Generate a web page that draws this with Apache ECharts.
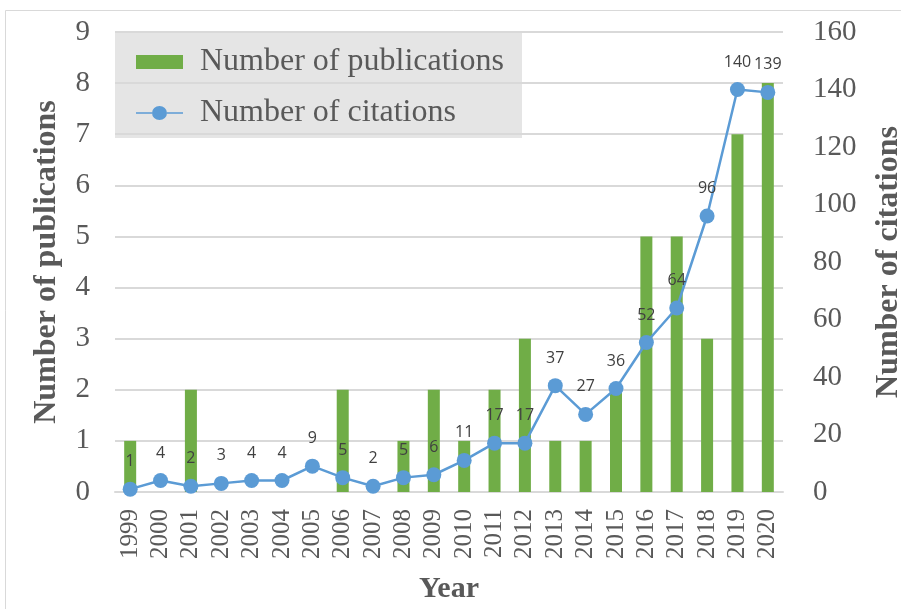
<!DOCTYPE html>
<html>
<head>
<meta charset="utf-8">
<script src="https://cdn.jsdelivr.net/npm/echarts@6/dist/echarts.min.js"></script>
<style>html,body{margin:0;padding:0;background:#fff;}#c{width:901px;height:609px;}</style>
</head>
<body>
<div id="c"></div>
<script>
const years = ['1999','2000','2001','2002','2003','2004','2005','2006','2007','2008','2009','2010','2011','2012','2013','2014','2015','2016','2017','2018','2019','2020'];
const publications = [1,0,2,0,0,0,0,2,0,1,2,1,2,3,1,1,2,5,5,3,7,8];
const citations = [1,4,2,3,4,4,9,5,2,5,6,11,17,17,37,27,36,52,64,96,140,139];

const serif = '"Liberation Serif", "DejaVu Serif", serif';
const lineIcon = 'path://M0 6.2L16 6.2L16 7.8L0 7.8Z M31 6.2L47 6.2L47 7.8L31 7.8Z M16 7A7.5 7 0 1 1 31 7A7.5 7 0 1 1 16 7Z';
const chart = echarts.init(document.getElementById('c'));
chart.setOption({
  animation: false,
  backgroundColor: '#fff',
  graphic: [
    {type: 'rect', shape: {x: 5.5, y: 10.5, width: 900, height: 600}, style: {fill: 'none', stroke: '#d9d9d9', lineWidth: 1}, silent: true},
    {type: 'rect', shape: {x: 115, y: 33, width: 407, height: 105}, style: {fill: '#e5e5e5'}, silent: true, z: -1}
  ],
  legend: {
    orient: 'vertical',
    left: 131, top: 41,
    itemWidth: 47, itemHeight: 14,
    itemGap: 19,
    textStyle: {fontFamily: serif, fontSize: 32, lineHeight: 32, color: '#595959', padding: [0, 0, 0, 12]},
    data: [
      {name: 'Number of publications', icon: 'rect'},
      {name: 'Number of citations', icon: lineIcon, itemStyle: {color: '#5b9bd5'}}
    ]
  },
  grid: {left: 115, right: 118, top: 32, bottom: 117, outerBoundsMode: 'none', containLabel: false},
  xAxis: {
    type: 'category',
    data: years,
    name: 'Year',
    nameLocation: 'middle',
    nameGap: 82,
    nameTextStyle: {fontFamily: serif, fontSize: 30, fontWeight: 'bold', color: '#595959'},
    axisLine: {show: true, lineStyle: {color: '#d9d9d9', width: 2}},
    axisTick: {show: false},
    axisLabel: {rotate: 90, fontFamily: serif, fontSize: 25, color: '#595959', margin: 17, interval: 0}
  },
  yAxis: [
    {
      type: 'value', min: 0, max: 9, interval: 1,
      name: 'Number of publications',
      nameLocation: 'middle', nameGap: 52,
      nameTextStyle: {fontFamily: serif, fontSize: 32, fontWeight: 'bold', color: '#595959'},
      axisLine: {show: false}, axisTick: {show: false},
      axisLabel: {fontFamily: serif, fontSize: 29, color: '#595959', margin: 25},
      splitLine: {lineStyle: {color: '#d9d9d9', width: 2}}
    },
    {
      type: 'value', min: 0, max: 160, interval: 20,
      name: 'Number of citations',
      nameLocation: 'middle', nameGap: 90,
      nameRotate: 90,
      nameTextStyle: {fontFamily: serif, fontSize: 32, fontWeight: 'bold', color: '#595959'},
      axisLine: {show: false}, axisTick: {show: false},
      axisLabel: {fontFamily: serif, fontSize: 29, color: '#595959', margin: 30},
      splitLine: {show: false}
    }
  ],
  series: [
    {
      name: 'Number of publications', type: 'bar', yAxisIndex: 0,
      data: publications, barWidth: 12,
      itemStyle: {color: '#70ad47'}
    },
    {
      name: 'Number of citations', type: 'line', yAxisIndex: 1,
      data: citations,
      symbol: 'circle', symbolSize: 15,
      lineStyle: {color: '#5b9bd5', width: 2.5},
      itemStyle: {color: '#5b9bd5'},
      label: {show: true, position: 'top', distance: 12, fontFamily: '"Open Sans", "Noto Sans", sans-serif', fontSize: 16, color: '#404040'}
    }
  ]
});
</script>
</body>
</html>
